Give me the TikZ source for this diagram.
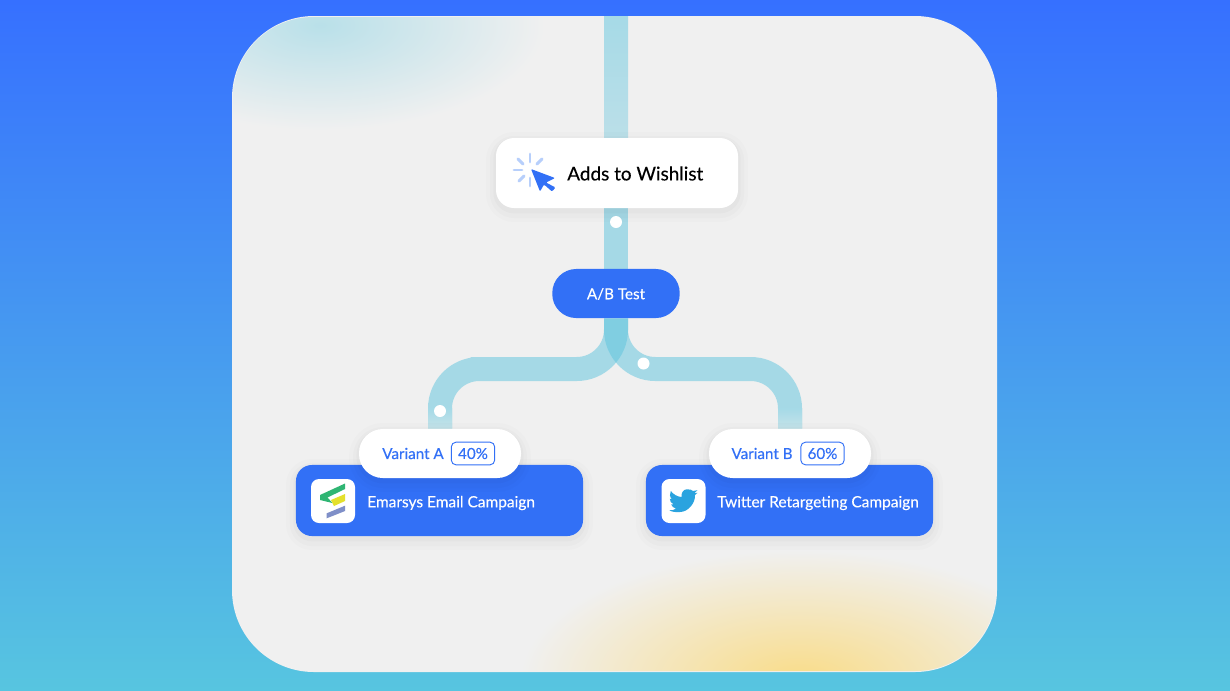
\documentclass[tikz,border=0pt]{standalone}
\usepackage{fontspec}
\setmainfont[FakeBold=0.25]{Lato}
\usetikzlibrary{backgrounds}
\definecolor{brandblue}{HTML}{3270F6}
\definecolor{topblue}{HTML}{3670FF}
\definecolor{skyblue}{HTML}{57C5E0}
\definecolor{panelgray}{HTML}{F0F0F0}
\definecolor{pipeblue}{HTML}{5CC4DE}
\definecolor{pipeflat}{HTML}{A6DAE7}
\definecolor{pipefade}{HTML}{C6E3E9}
\definecolor{stemfade}{HTML}{BBDFE8}
\definecolor{glowteal}{HTML}{B9E0E9}
\definecolor{glowsun}{HTML}{F9DC88}
\definecolor{sparkblue}{HTML}{B7CFFB}
\definecolor{birdblue}{HTML}{2AA3DF}
\definecolor{logogreen}{HTML}{2FB573}
\definecolor{logoyellow}{HTML}{E4E02C}
\definecolor{logoslate}{HTML}{7F8FC8}
\tikzset{
  softshadow/.style={
    preaction={draw=black,opacity=.01,line width=15pt,transform canvas={yshift=-3pt}},
    preaction={draw=black,opacity=.014,line width=9pt,transform canvas={yshift=-3pt}},
    preaction={draw=black,opacity=.018,line width=4pt,transform canvas={yshift=-2pt}}},
  panel/.style={fill=panelgray,rounded corners=61.5pt,inner sep=0pt,minimum width=573.75pt,minimum height=492pt},
  card/.style={softshadow,fill=white,rounded corners=13.5pt,inner sep=0pt,minimum width=181.5pt,minimum height=52.5pt},
  abpill/.style={fill=brandblue,rounded corners=18pt,inner sep=0pt,minimum width=95.6pt,minimum height=36.8pt},
  campaign/.style={softshadow,fill=brandblue,rounded corners=12pt,inner sep=0pt,minimum width=215.3pt,minimum height=53.3pt},
  variant/.style={softshadow,fill=white,rounded corners=18pt,inner sep=0pt,minimum width=121.5pt,minimum height=36.8pt},
  iconbox/.style={fill=white,rounded corners=6pt,inner sep=0pt,minimum size=33pt},
  percent/.style={draw=brandblue,line width=.7pt,rounded corners=3.5pt,inner sep=0pt,minimum width=32.5pt,minimum height=17pt,text=brandblue,font=\fontsize{11.4}{13}\selectfont},
  varlabel/.style={text=brandblue,inner sep=0pt,font=\fontsize{11.4}{13}\selectfont},
  camplabel/.style={text=white,inner sep=0pt,anchor=west,font=\fontsize{11.6}{13}\selectfont},
  pipe/.style={draw=pipeblue,opacity=.5,line width=18pt,rounded corners=29.5pt},
  pipedot/.style={circle,fill=white,inner sep=0pt,minimum size=9pt},
  spark/.style={draw=sparkblue,line width=2.2pt,line cap=round},
}
\begin{document}
\begin{tikzpicture}[x=0.75pt,y=-0.75pt]
\useasboundingbox (0,0) rectangle (1230,690);

% the cards
\node[card] (wishlist) at (617,173) {};
\node[abpill] (abtest) at (616,293.5) {};
\node[campaign] (emarsys) at (439.5,500.5) {};
\node[campaign] (twitter) at (789.5,500.5) {};
\node[variant] (varianta) at (440,453.5) {};
\node[variant] (variantb) at (790,453.5) {};
\coordinate (paneltop) at (616,16);
\coordinate (elbowa) at (510,369);
\coordinate (elbowb) at (700,369);

\begin{pgfonlayer}{background}
\shade[top color=topblue,bottom color=skyblue] (0,0) rectangle (1230,690);
\node[panel] (board) at (614.5,344) {};
\begin{scope}
\clip (314,17) -- (915,17) .. controls (960.3,17) and (996,52.7) .. (996,98)
  -- (996,590) .. controls (996,634.3) and (960.3,671) .. (915,671)
  -- (314,671) .. controls (268.7,671) and (233,634.3) .. (233,590)
  -- (233,98) .. controls (233,52.7) and (268.7,17) .. (314,17) -- cycle;
\shade[inner color=glowteal,outer color=panelgray] (320,25) ellipse [x radius=225,y radius=105];
\shade[inner color=glowsun,outer color=panelgray] (800,680) ellipse [x radius=280,y radius=130];
\end{scope}
% the pipes
\shade[top color=pipeflat,bottom color=stemfade] ([xshift=-9pt]paneltop) rectangle ([xshift=9pt]paneltop |- wishlist.north);
\draw[pipe] (paneltop |- wishlist.south) -- (abtest);
\draw[pipe] (abtest.south) |- (elbowa) -| (varianta.north);
\draw[pipe] (abtest.south) |- (elbowb) -| (variantb.north);
\shade[top color=pipeflat,bottom color=pipefade] ([xshift=-9pt,yshift=15pt]varianta.north) rectangle ([xshift=9pt]varianta.north);
\shade[top color=pipeflat,bottom color=pipefade] ([xshift=-9pt,yshift=15pt]variantb.north) rectangle ([xshift=9pt]variantb.north);
\end{pgfonlayer}

\node[pipedot] (dotone) at (616,222) {};
\node[pipedot] (dottwo) at (643.5,363.5) {};
\node[pipedot] (dotthree) at (440,411) {};

% the labels
\node[inner sep=0pt,anchor=west,font=\fontsize{14.2}{16}\selectfont] (wishtext) at (567,173.5) {Adds to Wishlist};
\node[text=white,inner sep=0pt,font=\fontsize{11.4}{13}\selectfont] (abtext) at (616,294) {A/B Test};
\node[varlabel] (varatext) at (413,453.5) {Variant A};
\node[percent] (varapct) at (473,453.5) {40\%};
\node[varlabel] (varbtext) at (762,453.5) {Variant B};
\node[percent] (varbpct) at (822.5,453.5) {60\%};
\node[camplabel] (emarsystext) at (367,503) {Emarsys Email Campaign};
\node[camplabel] (twittertext) at (717,503) {Twitter Retargeting Campaign};

% the cursor
\fill[brandblue,rounded corners=.8pt] (531,169) -- (555,178) -- (546,182.5) -- (555.5,187.5) -- (552,191.5) -- (544,184.5) -- (540,191.5) -- cycle;
\foreach \a/\b/\c/\d in {530/154/530/162,514/170/522/170,537/164/542/159,518/159/523/164,519/181/524/176,530/178/530/186} {
  \draw[spark] (\a,\b) -- (\c,\d);
}

% the emarsys logo
\node[iconbox] (emarsysicon) at (333,501) {};
\fill[logogreen] (345,483.5) -- (320,495) -- (320,500) -- (332.5,503) -- (327.5,497.5) -- (345,489) -- cycle;
\fill[logoyellow] (345,494) -- (331,500) -- (334,506) -- (345,501) -- cycle;
\fill[logoslate] (326.7,513.3) -- (345,505.7) -- (345,511) -- (326.7,518.3) -- cycle;

% the bird
\node[iconbox] (twittericon) at (683.5,501) {};
\fill[birdblue] (686.7,489.3) .. controls (690,489) and (692,490) .. (693,491)
  -- (697.3,490.2) -- (694.5,493.2) -- (697.5,492.8) -- (695,495)
  .. controls (695.5,503) and (688,512) .. (680,512)
  .. controls (676,512.3) and (672,512) .. (669.3,510.3)
  .. controls (672,510.5) and (674,510) .. (676,508.5)
  .. controls (673.5,508) and (672,506.5) .. (671.2,504.5)
  -- (673.5,504.3) .. controls (671,503) and (669.8,501) .. (669.8,498.7)
  -- (672,499.5) .. controls (669.5,497) and (669.5,493.5) .. (670.8,491)
  .. controls (673.5,494.5) and (677.5,496.8) .. (681.7,497)
  .. controls (681,492.5) and (683.5,489.5) .. (686.7,489.3) -- cycle;
\end{tikzpicture}
\end{document}
